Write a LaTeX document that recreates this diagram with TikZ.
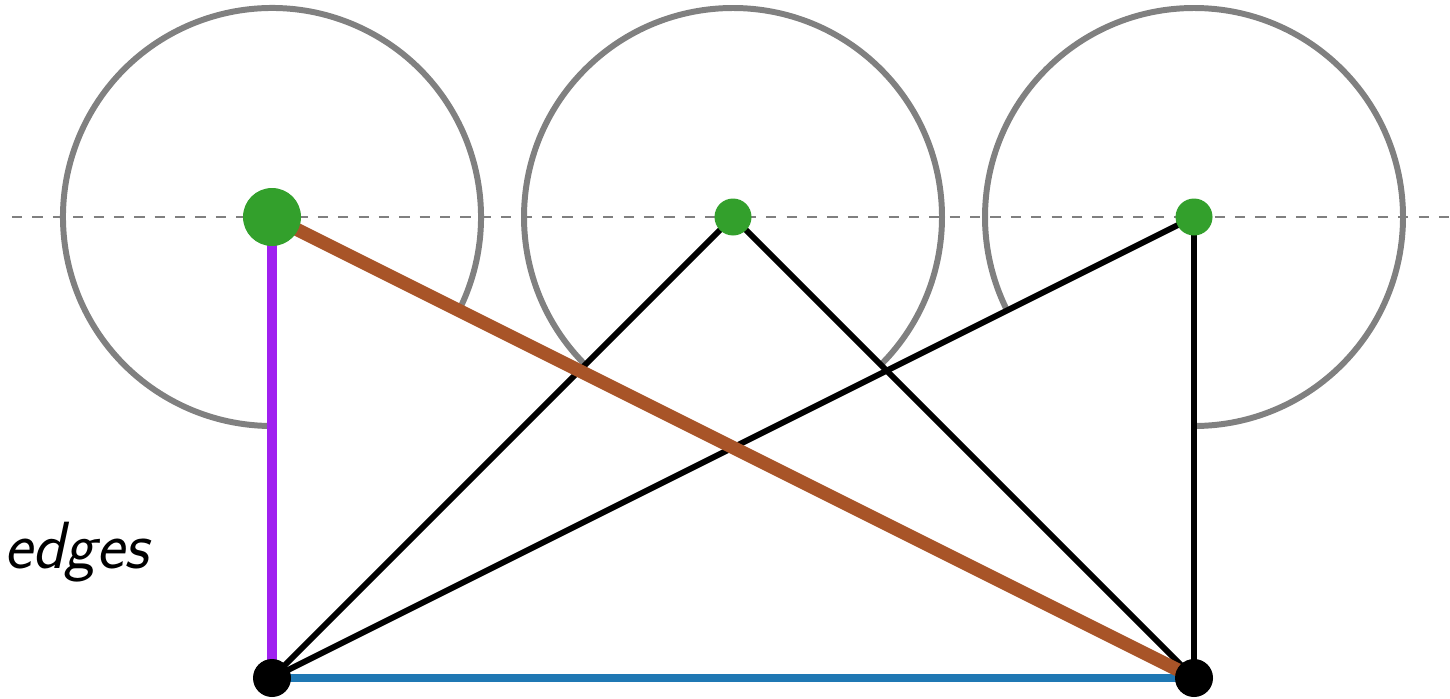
\documentclass[tikz,border=0pt]{standalone}
\usepackage{fontspec}
\usepackage{xcolor}
\usepackage{tikz}
\usetikzlibrary{backgrounds}
\definecolor{dotGreen}{RGB}{51,160,44}
\definecolor{edgePurple}{RGB}{160,32,240}
\definecolor{edgeBrown}{RGB}{168,84,40}
\definecolor{edgeBlue}{RGB}{31,120,180}

\begin{document}
\begin{tikzpicture}[
  topdot/.style={circle,fill=dotGreen,inner sep=0pt,minimum size=3.7mm},
  bigdot/.style={circle,fill=dotGreen,inner sep=0pt,minimum size=5.8mm},
  botdot/.style={circle,fill=black,inner sep=0pt,minimum size=3.8mm},
  ring/.style={draw=gray,line width=1.7pt},
  edge/.style={line width=1.7pt},
  axis/.style={gray,line width=0.75pt,dash pattern=on 2.9pt off 2.9pt}
]
\useasboundingbox (0,0) rectangle (14.5,6.98);
\node[bigdot] (u1) at (2.72,4.81) {};
\node[topdot] (u2) at (7.33,4.81) {};
\node[topdot] (u3) at (11.94,4.81) {};
\node[botdot] (v1) at (2.72,0.20) {};
\node[botdot] (v2) at (11.94,0.20) {};
\node[font=\fontsize{19}{22}\selectfont\sffamily\itshape,anchor=base west,inner sep=0pt] (lbl) at (0.04,1.30) {edges};
\coordinate (axisL) at (0.12,4.81);
\coordinate (axisR) at (14.5,4.81);
\begin{scope}[on background layer]
\draw[axis] (axisL) -- (axisR);
% circles, open where the edges leave
\draw[ring] ([shift={(-26.565:2.09)}]u1.center) arc[start angle=-26.565,end angle=270,radius=2.09];
\draw[ring] ([shift={(-45:2.09)}]u2.center) arc[start angle=-45,end angle=225,radius=2.09];
\draw[ring] ([shift={(-90:2.09)}]u3.center) arc[start angle=-90,end angle=206.565,radius=2.09];
\draw[edge] (u2.center) -- (v1.center);
\draw[edge] (u2.center) -- (v2.center);
\draw[edge] (u3.center) -- (v1.center);
\draw[edge] (u3.center) -- (v2.center);
\draw[edgePurple,line width=2.8pt] (u1.center) -- (v1.center);
\draw[edgeBlue,line width=2.4pt] (v1.center) -- (v2.center);
\draw[edgeBrown,line width=3.8pt] (u1.center) -- (v2.center);
\end{scope}
\end{tikzpicture}
\end{document}
